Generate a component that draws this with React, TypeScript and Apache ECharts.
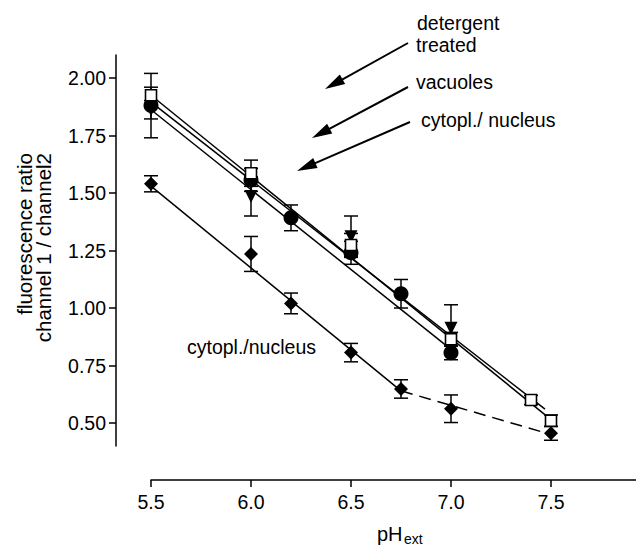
import React, { useEffect, useRef } from 'react';
import * as echarts from 'echarts';

// Axis ticks
const xTicks = [5.5, 6.0, 6.5, 7.0, 7.5];
const yTicks = [0.5, 0.75, 1.0, 1.25, 1.5, 1.75, 2.0];

// Open squares (detergent treated)
const squareX = [5.5, 6.0, 6.5, 7.0, 7.4, 7.5];
const squareY = [1.925, 1.586, 1.274, 0.864, 0.6, 0.51];
const squareErr = [0.035, 0.057, 0.05, 0.03, 0.02, 0.025];

// Filled circles (cytopl./ nucleus)
const circleX = [5.5, 6.0, 6.2, 6.5, 6.75, 7.0];
const circleY = [1.88, 1.557, 1.392, 1.24, 1.062, 0.805];
const circleErr = [0.14, 0.05, 0.056, 0.05, 0.062, 0.03];

// Inverted triangles (vacuoles)
const triX = [5.5, 6.0, 6.5, 7.0];
const triY = [1.862, 1.485, 1.31, 0.912];
const triErr = [0.04, 0.085, 0.09, 0.102];

// Diamonds (cytopl./nucleus, lower curve)
const diaX = [5.5, 6.0, 6.2, 6.5, 6.75, 7.0, 7.5];
const diaY = [1.54, 1.235, 1.02, 0.806, 0.648, 0.562, 0.455];
const diaErr = [0.035, 0.076, 0.045, 0.04, 0.04, 0.06, 0.03];

// Fit lines
const fitSquare = [[5.5, 1.925], [7.5, 0.515]];
const fitTri = [[5.5, 1.895], [7.47, 0.56]];
const fitCircle = [[5.5, 1.862], [7.0, 0.82]];
const fitDiaSolid = [[5.5, 1.53], [6.75, 0.64]];
const fitDiaDashed = [[6.75, 0.64], [7.5, 0.45]];

const FONT = '"Liberation Sans", Arial, Helvetica, sans-serif';

function errorSeries(xs: number[], ys: number[], errs: number[], z: number) {
  return {
    type: 'custom',
    z,
    clip: false,
    data: xs.map((x, i) => [x, ys[i] - errs[i], ys[i] + errs[i]]),
    encode: { x: 0, y: [1, 2] },
    renderItem: (params: any, api: any) => {
      const x = api.value(0);
      const lo = api.coord([x, api.value(1)]);
      const hi = api.coord([x, api.value(2)]);
      const hw = 7;
      const st = { stroke: '#000', lineWidth: 1.5 };
      return {
        type: 'group',
        children: [
          { type: 'line', shape: { x1: lo[0], y1: lo[1], x2: hi[0], y2: hi[1] }, style: st },
          { type: 'line', shape: { x1: lo[0] - hw, y1: lo[1], x2: lo[0] + hw, y2: lo[1] }, style: st },
          { type: 'line', shape: { x1: hi[0] - hw, y1: hi[1], x2: hi[0] + hw, y2: hi[1] }, style: st },
        ],
      };
    },
  };
}

function lineSeries(data: number[][], dashed = false) {
  return {
    type: 'line',
    data,
    symbol: 'none',
    z: 2,
    lineStyle: { color: '#000', width: 1.5, type: dashed ? [12, 7] : 'solid' },
    silent: true,
  };
}

function arrow(x1: number, y1: number, tx: number, ty: number) {
  const dx = tx - x1;
  const dy = ty - y1;
  const len = Math.sqrt(dx * dx + dy * dy);
  const ux = dx / len;
  const uy = dy / len;
  const hl = 20;
  const hw = 5.5;
  const bx = tx - ux * hl;
  const by = ty - uy * hl;
  const px = -uy;
  const py = ux;
  return [
    { type: 'line', shape: { x1, y1, x2: bx + ux * 2, y2: by + uy * 2 }, style: { stroke: '#000', lineWidth: 2 } },
    {
      type: 'polygon',
      shape: { points: [[tx, ty], [bx + px * hw, by + py * hw], [bx - px * hw, by - py * hw]] },
      style: { fill: '#000' },
    },
  ];
}

function label(text: string, x: number, y: number, size = 19.5) {
  return {
    type: 'text',
    x,
    y,
    style: {
      text,
      fill: '#000',
      fontSize: size,
      fontFamily: FONT,
      textAlign: 'left',
      textVerticalAlign: 'middle',
    },
  };
}

export default function App() {
  const ref = useRef<HTMLDivElement>(null);
  useEffect(() => {
    if (!ref.current) return;
    const chart = echarts.init(ref.current, undefined, { renderer: 'svg' });
    const axisCommon = {
      type: 'value',
      axisLine: { show: true, onZero: false, lineStyle: { color: '#000', width: 1.5 } },
      splitLine: { show: false },
    };
    chart.setOption({
      animation: false,
      backgroundColor: '#fff',
      grid: { left: 151, right: 0, top: 55, bottom: 101 },
      xAxis: {
        ...axisCommon,
        min: 5.5,
        max: 7.925,
        offset: 34,
        axisTick: { show: true, length: 7, customValues: xTicks, lineStyle: { color: '#000', width: 1.5 } },
        axisLabel: {
          customValues: xTicks,
          formatter: (v: number) => v.toFixed(1),
          margin: 12,
          fontSize: 19.5,
          color: '#000',
          fontFamily: FONT,
        },
      },
      yAxis: {
        ...axisCommon,
        min: 0.4,
        max: 2.1,
        offset: 35,
        axisTick: { show: true, length: 7, customValues: yTicks, lineStyle: { color: '#000', width: 1.5 } },
        axisLabel: {
          customValues: yTicks,
          formatter: (v: number) => v.toFixed(2),
          margin: 10,
          fontSize: 19.5,
          color: '#000',
          fontFamily: FONT,
        },
      },
      series: [
        lineSeries(fitSquare),
        lineSeries(fitTri),
        lineSeries(fitCircle),
        lineSeries(fitDiaSolid),
        lineSeries(fitDiaDashed, true),
        errorSeries(circleX, circleY, circleErr, 3),
        errorSeries(triX, triY, triErr, 3),
        errorSeries(squareX, squareY, squareErr, 3),
        errorSeries(diaX, diaY, diaErr, 3),
        {
          type: 'scatter',
          z: 4,
          data: circleX.map((x, i) => [x, circleY[i]]),
          symbol: 'circle',
          symbolSize: 15,
          itemStyle: { color: '#000', opacity: 1 },
        },
        {
          type: 'scatter',
          z: 5,
          data: triX.map((x, i) => [x, triY[i]]),
          symbol: 'triangle',
          symbolRotate: 180,
          symbolSize: [13, 13],
          itemStyle: { color: '#000', opacity: 1 },
        },
        {
          type: 'scatter',
          z: 6,
          data: squareX.map((x, i) => [x, squareY[i]]),
          symbol: 'rect',
          symbolSize: 11,
          itemStyle: { color: '#fff', borderColor: '#000', borderWidth: 1.6, opacity: 1 },
        },
        {
          type: 'scatter',
          z: 7,
          data: diaX.map((x, i) => [x, diaY[i]]),
          symbol: 'diamond',
          symbolSize: [14, 14],
          itemStyle: { color: '#000', opacity: 1 },
        },
      ],
      graphic: [
        label('detergent', 417, 23),
        label('treated', 416, 45),
        label('vacuoles', 416, 82),
        label('cytopl./ nucleus', 421, 120),
        label('cytopl./nucleus', 187, 347),
        ...arrow(408, 43, 325, 89),
        ...arrow(408, 87, 312, 138),
        ...arrow(410, 122, 297, 171),
        {
          type: 'text',
          x: 34,
          y: 153,
          rotation: Math.PI / 2,
          style: {
            text: 'fluorescence ratio\nchannel 1 / channel2',
            fill: '#000',
            fontSize: 20.5,
            fontFamily: FONT,
            lineHeight: 19,
            textAlign: 'right',
            textVerticalAlign: 'middle',
          },
        },
        label('pH', 377, 534, 20),
        label('ext', 404, 539, 14),
      ],
    });
    return () => chart.dispose();
  }, []);
  return (
    <div
      ref={ref}
      style={{ position: 'absolute', left: 0, top: 0, width: 636, height: 547, background: '#fff' }}
    />
  );
}
